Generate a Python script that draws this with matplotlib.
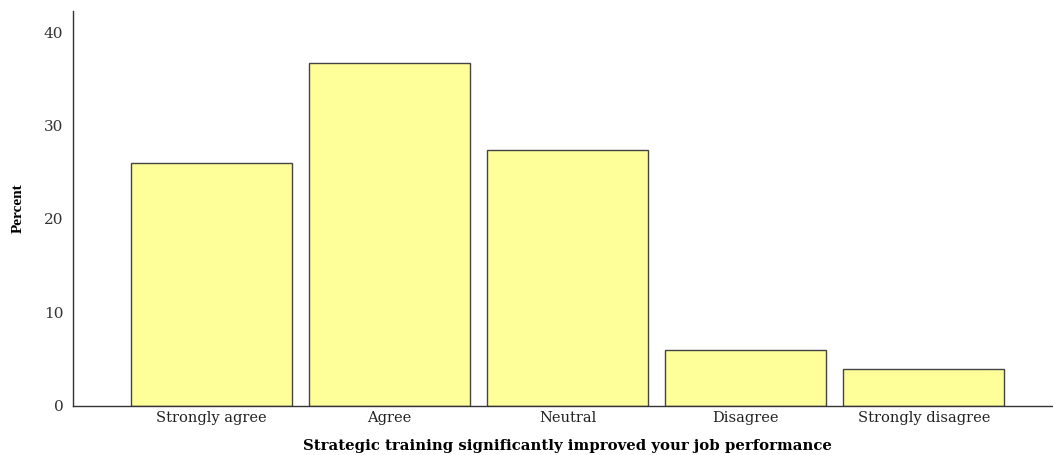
import matplotlib
matplotlib.use("Agg")
import matplotlib.pyplot as plt

categories = ["Strongly agree", "Agree", "Neutral", "Disagree", "Strongly disagree"]
percents = [26.0, 36.7, 27.4, 6.0, 3.9]
yticks = [0, 10, 20, 30, 40]

fig = plt.figure(figsize=(10.53, 4.55), dpi=100)
W, H = 1053, 455
ax = fig.add_axes([73 / W, 1 - 405.5 / H, (1052 - 73) / W, (405.5 - 11) / H])

x = list(range(len(categories)))
ax.bar(x, percents, width=0.905, color="#FFFF99", edgecolor="#444444", linewidth=1.0)

ax.set_xlim(-0.778, 4.72)
ax.set_ylim(0, 42.3)
ax.set_yticks(yticks)
ax.set_yticklabels([str(t) for t in yticks], family="DejaVu Serif", fontsize=11, color="#333333")
ax.set_xticks(x)
ax.set_xticklabels(categories, family="DejaVu Serif", fontsize=10.5, color="#222222")
ax.tick_params(axis="x", length=0, pad=4)
ax.tick_params(axis="y", length=0, pad=7)

for s in ["top", "right"]:
    ax.spines[s].set_visible(False)
for s in ["left", "bottom"]:
    ax.spines[s].set_color("#333333")
    ax.spines[s].set_linewidth(1.0)

ax.set_xlabel("Strategic training significantly improved your job performance",
              family="DejaVu Serif", fontweight="bold", fontsize=10.7)
ax.xaxis.set_label_coords((567.5 - 73) / 979, -(439 - 405.5) / 394.5)
ax.set_ylabel("Percent", family="Liberation Serif", fontweight="bold", fontsize=11)
ax.yaxis.set_label_coords(-(73 - 25) / 979, 0.5)

fig.savefig("out.png", dpi=100)
